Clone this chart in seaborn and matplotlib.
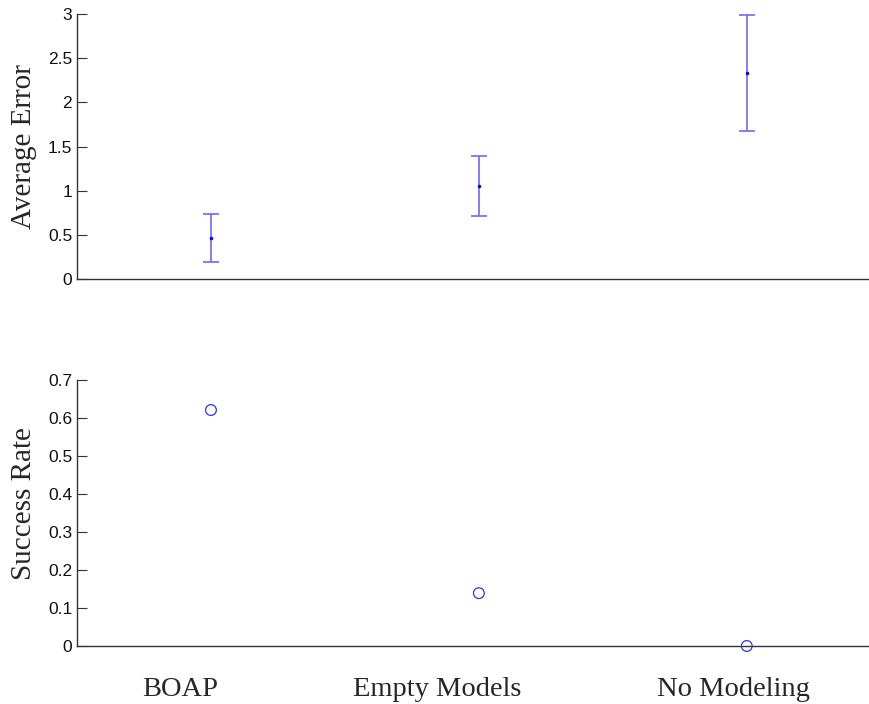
import numpy as np
import pandas as pd
import matplotlib
matplotlib.use('Agg')
import matplotlib.pyplot as plt
import seaborn as sns

# data
methods = ['BOAP', 'Empty Models', 'No Modeling']
avg_error = [0.464, 1.053, 2.337]
error_half = [0.272, 0.344, 0.656]
success_rate = [0.621, 0.139, 0.0]
# the category names sit a bit left of the points in the original
label_x = [0.884, 1.843, 2.951]

sns.set_style('ticks')
plt.rcParams['font.family'] = ['Liberation Sans', 'DejaVu Sans']

df = pd.DataFrame({'method': methods, 'x': [1, 2, 3],
                   'err': avg_error, 'half': error_half, 'succ': success_rate})

fig = plt.figure(figsize=(8.7, 7.04), dpi=100)
ax1 = fig.add_axes([0.0885, 0.6037, 0.9115, 0.3764])
ax2 = fig.add_axes([0.0885, 0.0824, 0.9115, 0.3778])

blue = '#0000ff'

# top: average error with error bars
ax1.errorbar(df['x'], df['err'], yerr=df['half'], fmt='.', color=blue,
             ecolor='#6a6aff', elinewidth=1.2, capsize=5.5, capthick=1.2,
             markersize=3)
ax1.set_ylim(0, 3)
ax1.set_yticks([0, 0.5, 1, 1.5, 2, 2.5, 3])
ax1.set_yticklabels(['0', '0.5', '1', '1.5', '2', '2.5', '3'])
ax1.set_xticks([])
ax1.set_ylabel('Average Error', family='Liberation Serif', fontsize=21)
ax1.yaxis.set_label_coords(-0.050, 0.5)

# bottom: success rate
sns.scatterplot(data=df, x='x', y='succ', ax=ax2, marker='o', s=60,
                facecolor='none', edgecolor='#3030ff', linewidth=0.9, zorder=5,
                clip_on=False)
ax2.set_ylim(0, 0.7)
ax2.set_yticks([0, 0.1, 0.2, 0.3, 0.4, 0.5, 0.6, 0.7])
ax2.set_yticklabels(['0', '0.1', '0.2', '0.3', '0.4', '0.5', '0.6', '0.7'])
ax2.set_xticks(label_x)
ax2.set_xticklabels(methods, family='Liberation Serif', fontsize=20.5)
ax2.tick_params(axis='x', length=0, pad=22)
ax2.set_xlabel('')
ax2.set_ylabel('Success Rate', family='Liberation Serif', fontsize=21)
ax2.yaxis.set_label_coords(-0.050, 0.535)

for ax in (ax1, ax2):
    ax.set_xlim(0.5, 3.46)
    sns.despine(ax=ax)
    ax.tick_params(axis='y', direction='in', length=7, width=0.8,
                   labelsize=12.5, pad=3.5, color='#333333', labelcolor='#111111')
    for s in ('left', 'bottom'):
        ax.spines[s].set_color('#333333')
        ax.spines[s].set_linewidth(1.0)

fig.savefig('out.png', dpi=100)
